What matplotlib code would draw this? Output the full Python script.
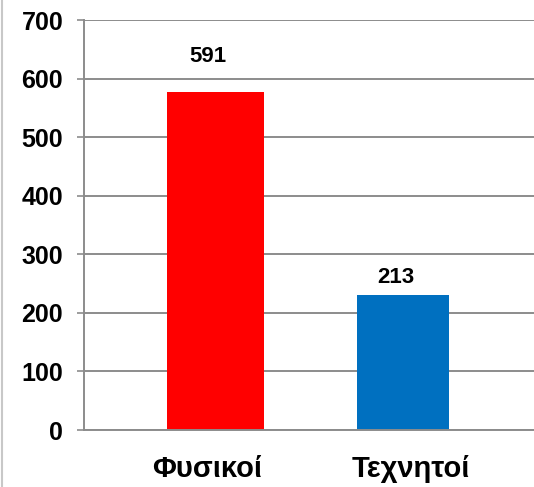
import matplotlib
matplotlib.use("Agg")
import matplotlib.pyplot as plt
from matplotlib.lines import Line2D
from matplotlib.transforms import ScaledTranslation

categories = ["Φυσικοί", "Τεχνητοί"]
bar_values = [577, 230]
label_values = [591, 213]
label_texts = ["591", "213"]
colors = ["#FF0000", "#0070C0"]
bar_widths = [0.52, 0.49]
yticks = [0, 100, 200, 300, 400, 500, 600, 700]

W, H, DPI = 534, 487, 100
plt.rcParams['font.family'] = ['Liberation Sans', 'DejaVu Sans']
fig = plt.figure(figsize=(W / DPI, H / DPI), dpi=DPI)

ax = fig.add_axes([84 / W, 57 / H, 1 - 84 / W, (430 - 20) / H])
x = list(range(len(categories)))
ax.bar(x, bar_values, width=bar_widths, color=colors, zorder=3)

ax.set_ylim(0, 700)
ax.set_xlim(-0.70, 1.70)
ax.set_yticks(yticks)
ax.set_yticklabels([str(v) for v in yticks], fontsize=18, fontweight='bold')
ax.set_xticks(x)
ax.set_xticklabels(categories, fontsize=21, fontweight='bold')
ax.tick_params(axis='x', length=0, pad=18)
ax.tick_params(axis='y', length=5, width=1.2, color='#8c8c8c', pad=10)

# small horizontal nudges of the category labels as in the reference
for lbl, dx in zip(ax.get_xticklabels(), [-8, 8]):
    lbl.set_transform(lbl.get_transform() + ScaledTranslation(dx / DPI, 0, fig.dpi_scale_trans))

ax.grid(axis='y', color='#8c8c8c', linewidth=1.4, zorder=0)
for s in ['top', 'right']:
    ax.spines[s].set_visible(False)
for s in ['left', 'bottom']:
    ax.spines[s].set_color('#8c8c8c')
    ax.spines[s].set_linewidth(1.4)
    ax.spines[s].set_zorder(4)

for xi, lv, lt in zip(x, label_values, label_texts):
    ax.annotate(lt, xy=(xi, lv), xytext=(-5, 20), textcoords='offset points',
                ha='center', va='center', fontsize=16, fontweight='bold')

fig.add_artist(Line2D([2 / W, 2 / W], [0, 1], color='#c8c8c8', linewidth=1.5,
                      transform=fig.transFigure))

fig.savefig("out.png", dpi=DPI)
